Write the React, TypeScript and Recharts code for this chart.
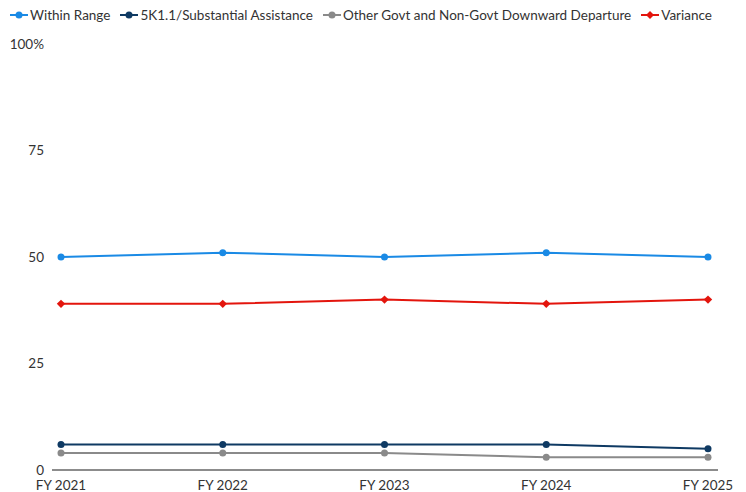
import React from "react";
import { LineChart, Line, XAxis, YAxis } from "recharts";

const years = ["FY 2021", "FY 2022", "FY 2023", "FY 2024", "FY 2025"];
const withinRange = [50, 51, 50, 51, 50];
const substantialAssistance = [6, 6, 6, 6, 5];
const otherDeparture = [4, 4, 4, 3, 3];
const variance = [39, 39, 40, 39, 40];
const yTicks = [0, 25, 50, 75, 100];

const series = [
  { key: "within", name: "Within Range", color: "#1a8ae5", shape: "circle" },
  { key: "sa", name: "5K1.1/Substantial Assistance", color: "#0f3a63", shape: "circle" },
  { key: "other", name: "Other Govt and Non-Govt Downward Departure", color: "#8a8a8a", shape: "circle" },
  { key: "variance", name: "Variance", color: "#e3150d", shape: "diamond" },
];

const data = years.map((year, i) => ({
  year,
  within: withinRange[i],
  sa: substantialAssistance[i],
  other: otherDeparture[i],
  variance: variance[i],
}));

const FONT = "Lato, 'Noto Sans', sans-serif";
const TEXT = "#333333";

const Diamond = (props: any) => {
  const { cx, cy, fill } = props;
  if (cx == null || cy == null) return null;
  const r = 4.2;
  return <path d={`M${cx},${cy - r}L${cx + r},${cy}L${cx},${cy + r}L${cx - r},${cy}Z`} fill={fill} />;
};

// legend drawn outside the chart so it doesn't eat plot space
const LegendRow = () => (
  <div
    style={{
      position: "absolute",
      top: 7,
      left: 10,
      display: "flex",
      alignItems: "center",
      fontFamily: FONT,
      fontSize: 13.5,
      color: TEXT,
      whiteSpace: "nowrap",
    }}
  >
    {series.map((s) => (
      <div key={s.key} style={{ display: "flex", alignItems: "center", marginRight: 10 }}>
        <svg width={18} height={10} style={{ marginRight: 2 }}>
          <line x1={0} y1={5} x2={18} y2={5} stroke={s.color} strokeWidth={2} />
          {s.shape === "diamond" ? (
            <path d="M9,1L13,5L9,9L5,5Z" fill={s.color} />
          ) : (
            <circle cx={9} cy={5} r={3.5} fill={s.color} />
          )}
        </svg>
        <span>{s.name}</span>
      </div>
    ))}
  </div>
);

export default function App() {
  return (
    <div style={{ position: "absolute", left: 0, top: 0, width: 746, height: 492, background: "#fff" }}>
      <LineChart width={746} height={492} data={data} margin={{ top: 44, right: 28, bottom: 0, left: 0 }}>
        <XAxis
          dataKey="year"
          height={22}
          padding={{ left: 9, right: 10 }}
          tickLine={false}
          axisLine={{ stroke: "#666666", strokeWidth: 1.5 }}
          tick={{ fill: TEXT, fontSize: 13.5, fontFamily: FONT }}
          tickMargin={4}
          interval={0}
        />
        <YAxis
          domain={[0, 100]}
          ticks={yTicks}
          width={52}
          axisLine={false}
          tickLine={false}
          tickFormatter={(v) => (v === 100 ? "100%" : String(v))}
          tick={{ fill: TEXT, fontSize: 13.5, fontFamily: FONT }}
        />
        {series.map((s) => (
          <Line
            key={s.key}
            dataKey={s.key}
            name={s.name}
            type="linear"
            stroke={s.color}
            strokeWidth={2}
            dot={s.shape === "diamond" ? <Diamond fill={s.color} /> : { r: 3.5, fill: s.color, stroke: "none" }}
            activeDot={false}
            isAnimationActive={false}
          />
        ))}
      </LineChart>
      <LegendRow />
    </div>
  );
}
